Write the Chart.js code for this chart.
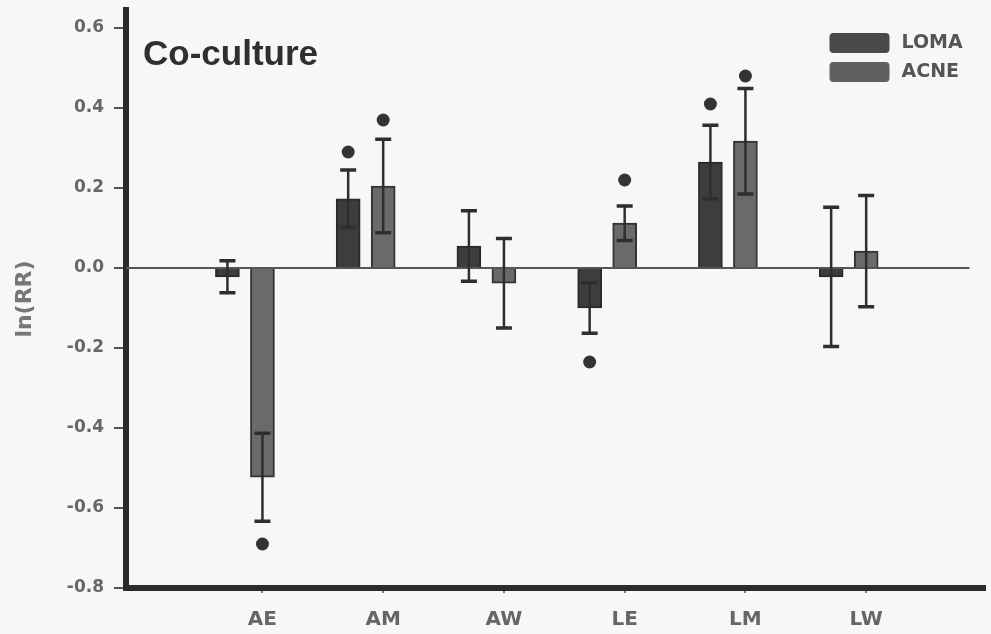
<!DOCTYPE html>
<html>
<head>
<meta charset="utf-8">
<script src="https://cdn.jsdelivr.net/npm/chart.js@4.4.0/dist/chart.umd.min.js"></script>
<style>
  html, body { margin: 0; padding: 0; background: #f7f7f7; }
  #wrap { width: 991px; height: 634px; }
</style>
</head>
<body>
<div id="wrap"><canvas id="grafico"></canvas></div>
<script>
const categories = ["AE", "AM", "AW", "LE", "LM", "LW"];
const lomaValues = [-0.022, 0.173, 0.055, -0.100, 0.265, -0.022];
const lomaErrors = [0.040, 0.072, 0.088, 0.063, 0.092, 0.174];
const acneValues = [-0.523, 0.205, -0.038, 0.112, 0.317, 0.042];
const acneErrors = [0.110, 0.117, 0.112, 0.043, 0.132, 0.139];
// significance dots (null = none)
const lomaSig = [null, 0.29, null, -0.235, 0.41, null];
const acneSig = [-0.69, 0.37, null, 0.22, 0.48, null];
const yTicks = [-0.8, -0.6, -0.4, -0.2, 0.0, 0.2, 0.4, 0.6];

const lomaShift = -0.29; // LOMA bar sits left of the category tick

const toPoints = (vals, shift) => vals.map((v, i) => ({ x: i + shift, y: v }));
const toSig = (vals, shift) => vals
  .map((v, i) => (v === null ? null : { x: i + shift, y: v }))
  .filter(p => p !== null);

const errorBars = {
  id: 'errorBars',
  afterDatasetsDraw(chart) {
    const ctx = chart.ctx;
    const y = chart.scales.y;
    chart.data.datasets.forEach((ds, d) => {
      if (!ds.errors) return;
      chart.getDatasetMeta(d).data.forEach((bar, i) => {
        const v = ds.data[i].y, e = ds.errors[i];
        const top = y.getPixelForValue(v + e);
        const bot = y.getPixelForValue(v - e);
        ctx.save();
        ctx.strokeStyle = '#2e2e2e';
        ctx.lineWidth = 2.5;
        ctx.beginPath();
        ctx.moveTo(bar.x, top); ctx.lineTo(bar.x, bot);
        ctx.stroke();
        ctx.lineWidth = 3.5;
        ctx.beginPath();
        ctx.moveTo(bar.x - 8, top); ctx.lineTo(bar.x + 8, top);
        ctx.moveTo(bar.x - 8, bot); ctx.lineTo(bar.x + 8, bot);
        ctx.stroke();
        ctx.restore();
      });
    });
  }
};

const decor = {
  id: 'decor',
  beforeDraw(chart) {
    const ctx = chart.ctx;
    ctx.save();
    ctx.fillStyle = '#f7f7f7';
    ctx.fillRect(0, 0, chart.width, chart.height);
    ctx.restore();
  },
  beforeDatasetsDraw(chart) {
    // zero line, stops a bit short of the right end
    const ctx = chart.ctx, a = chart.chartArea;
    const y0 = chart.scales.y.getPixelForValue(0);
    ctx.save();
    ctx.strokeStyle = '#555';
    ctx.lineWidth = 2;
    ctx.beginPath();
    ctx.moveTo(a.left, y0);
    ctx.lineTo(a.right - 15, y0);
    ctx.stroke();
    ctx.restore();
  },
  afterDraw(chart) {
    const ctx = chart.ctx;
    const a = chart.chartArea;
    ctx.save();
    ctx.fillStyle = '#2f2f2f';
    ctx.font = 'bold 35px "Liberation Sans", Arial, sans-serif';
    ctx.textBaseline = 'alphabetic';
    ctx.fillText('Co-culture', a.left + 17, 65);

    // legend, top right
    const bars = chart.data.datasets.filter(ds => ds.type === 'bar');
    bars.forEach((ds, k) => {
      const bx = a.right - 155, by = 33 + k * 29;
      ctx.fillStyle = ds.legendColor;
      ctx.beginPath();
      ctx.roundRect(bx, by, 60, 20, 4);
      ctx.fill();
      ctx.fillStyle = '#555';
      ctx.font = 'bold 19px "DejaVu Sans", sans-serif';
      ctx.textBaseline = 'middle';
      ctx.fillText(ds.label, bx + 72, by + 10);
    });
    ctx.restore();
  }
};

new Chart(document.getElementById('grafico').getContext('2d'), {
  type: 'bar',
  data: {
    datasets: [
      {
        type: 'bar',
        label: 'LOMA',
        data: toPoints(lomaValues, lomaShift),
        errors: lomaErrors,
        backgroundColor: '#3d3d3d',
        borderColor: '#2a2a2a',
        borderWidth: 2,
        barThickness: 24,
        grouped: false,
        legendColor: '#4a4a4a'
      },
      {
        type: 'bar',
        label: 'ACNE',
        data: toPoints(acneValues, 0),
        errors: acneErrors,
        backgroundColor: '#6a6a6a',
        borderColor: '#333',
        borderWidth: 2,
        barThickness: 24,
        grouped: false,
        legendColor: '#606060'
      },
      {
        type: 'scatter',
        label: 'sig LOMA',
        data: toSig(lomaSig, lomaShift),
        pointRadius: 6.5,
        pointBackgroundColor: '#333',
        pointBorderWidth: 0
      },
      {
        type: 'scatter',
        label: 'sig ACNE',
        data: toSig(acneSig, 0),
        pointRadius: 6.5,
        pointBackgroundColor: '#333',
        pointBorderWidth: 0
      }
    ]
  },
  options: {
    responsive: true,
    maintainAspectRatio: false,
    animation: false,
    layout: { padding: { left: 0, top: 10, right: 3, bottom: 0 } },
    plugins: {
      legend: { display: false },
      tooltip: { enabled: false }
    },
    scales: {
      x: {
        type: 'linear',
        min: -1.13,
        max: 5.98,
        offset: false,
        afterBuildTicks: scale => { scale.ticks = categories.map((c, i) => ({ value: i })); },
        afterFit: scale => { scale.height = 46; scale.paddingLeft = 0; scale.paddingRight = 0; },
        ticks: {
          callback: v => categories[v],
          color: '#666',
          font: { family: 'DejaVu Sans', size: 20, weight: 'bold' },
          padding: 15,
          maxRotation: 0
        },
        grid: { drawOnChartArea: false, offset: false, tickLength: 5, tickColor: '#777', lineWidth: 2 },
        border: { display: true, color: '#2b2b2b', width: 6 }
      },
      y: {
        min: -0.8,
        max: 0.645,
        afterBuildTicks: scale => { scale.ticks = yTicks.map(v => ({ value: v })); },
        afterFit: scale => { scale.width = 126; scale.paddingTop = 0; scale.paddingBottom = 0; },
        ticks: {
          callback: v => v.toFixed(1),
          color: '#666',
          font: { family: 'DejaVu Sans', size: 17, weight: 'bold' },
          padding: 10
        },
        grid: {
          drawOnChartArea: false,
          lineWidth: 2,
          tickColor: '#555',
          tickLength: 12
        },
        border: { display: true, color: '#2b2b2b', width: 6 },
        title: {
          display: true,
          text: 'ln(RR)',
          color: '#777',
          font: { family: 'DejaVu Sans', size: 22, weight: 'bold' },
          padding: { top: 12, bottom: 0 }
        }
      }
    }
  },
  plugins: [decor, errorBars]
});
</script>
</body>
</html>
